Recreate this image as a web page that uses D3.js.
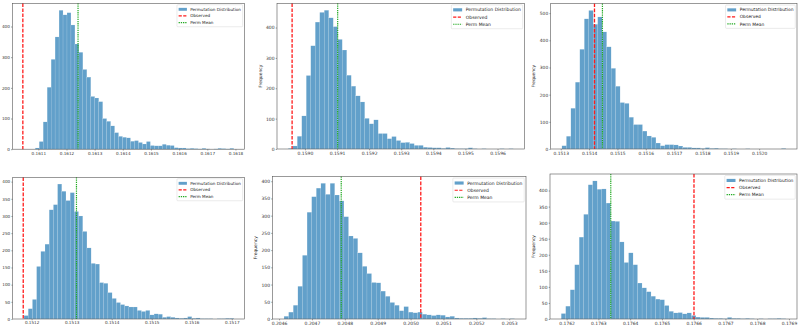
<!DOCTYPE html>
<html>
<head>
<meta charset="utf-8">
<script src="https://cdn.jsdelivr.net/npm/d3@7"></script>
<style>
  body { margin: 0; background: #fff; }
  svg { display: block; font-family: 'DejaVu Sans', sans-serif; }
</style>
</head>
<body>
<div id="chart"></div>
<script>
const w = 800
const h = 333

// histogram counts (50 bins each)
const counts1 = [4, 25, 89, 202, 293, 366, 453, 438, 445, 405, 343, 316, 260, 235, 172, 167, 155, 100, 91, 76, 54, 42, 39, 37, 26, 28, 22, 17, 25, 12, 11, 11, 16, 13, 12, 5, 4, 4, 2, 3, 2, 1, 3, 1, 0, 1, 3, 2, 1, 3]
const counts2 = [2, 10, 42, 109, 242, 340, 418, 450, 457, 432, 403, 361, 326, 243, 207, 175, 155, 101, 83, 96, 51, 51, 34, 41, 28, 21, 22, 18, 12, 12, 6, 5, 4, 4, 2, 5, 3, 1, 1, 1, 4, 1, 0, 1, 0, 0, 0, 1, 0, 1]
const counts3 = [12, 47, 150, 246, 367, 479, 510, 459, 486, 431, 376, 297, 231, 171, 168, 117, 90, 90, 66, 48, 43, 22, 12, 16, 16, 15, 11, 6, 6, 4, 4, 2, 5, 2, 3, 1, 1, 0, 1, 0, 0, 1, 0, 0, 0, 0, 0, 0, 0, 2]
const counts4 = [10, 30, 57, 153, 197, 218, 318, 333, 393, 372, 345, 368, 313, 300, 255, 207, 162, 160, 106, 104, 77, 60, 48, 42, 38, 35, 35, 25, 22, 25, 12, 15, 14, 5, 7, 5, 3, 2, 3, 7, 2, 3, 1, 1, 1, 0, 1, 1, 2, 2]
const counts5 = [8, 20, 40, 95, 185, 310, 355, 380, 394, 362, 394, 360, 343, 297, 241, 234, 192, 153, 132, 106, 105, 81, 66, 48, 40, 24, 36, 20, 18, 20, 14, 12, 10, 12, 11, 6, 8, 3, 2, 2, 2, 3, 2, 4, 1, 1, 0, 1, 0, 1]
const counts6 = [17, 40, 91, 169, 255, 326, 418, 430, 404, 405, 361, 305, 304, 240, 176, 206, 169, 112, 97, 85, 71, 62, 60, 42, 24, 19, 20, 16, 19, 11, 6, 5, 5, 3, 2, 2, 1, 5, 2, 2, 1, 2, 1, 0, 1, 0, 1, 1, 2, 1]

// histogram ranges [first edge, last edge]
const binRange1 = [0.161089, 0.161794]
const binRange2 = [0.158948, 0.159649]
const binRange3 = [0.151304, 0.152094]
const binRange4 = [0.151181, 0.151705]
const binRange5 = [0.204615, 0.205316]
const binRange6 = [0.176183, 0.176890]

const observed = [0.161045, 0.158960, 0.151419, 0.151179, 0.205031, 0.176601]
const permMean = [0.161241, 0.159102, 0.151447, 0.151312, 0.204789, 0.176339]

const xTicks1 = [0.1611, 0.1612, 0.1613, 0.1614, 0.1615, 0.1616, 0.1617, 0.1618]
const xTicks2 = [0.1590, 0.1591, 0.1592, 0.1593, 0.1594, 0.1595, 0.1596]
const xTicks3 = [0.1513, 0.1514, 0.1515, 0.1516, 0.1517, 0.1518, 0.1519, 0.1520]
const xTicks4 = [0.1512, 0.1513, 0.1514, 0.1515, 0.1516, 0.1517]
const xTicks5 = [0.2046, 0.2047, 0.2048, 0.2049, 0.2050, 0.2051, 0.2052, 0.2053]
const xTicks6 = [0.1762, 0.1763, 0.1764, 0.1765, 0.1766, 0.1767, 0.1768, 0.1769]

const yTicksA = [0, 100, 200, 300, 400]
const yTicksB = [0, 100, 200, 300, 400, 500]
const yTicksC = [0, 50, 100, 150, 200, 250, 300, 350, 400]

const legendLabels = ['Permutation Distribution', 'Observed', 'Perm Mean']
const yLabel = 'Frequency'

const panels = [
    {counts: counts1, range: binRange1, obs: observed[0], mean: permMean[0], xTicks: xTicks1, yTicks: yTicksA},
    {counts: counts2, range: binRange2, obs: observed[1], mean: permMean[1], xTicks: xTicks2, yTicks: yTicksA},
    {counts: counts3, range: binRange3, obs: observed[2], mean: permMean[2], xTicks: xTicks3, yTicks: yTicksB},
    {counts: counts4, range: binRange4, obs: observed[3], mean: permMean[3], xTicks: xTicks4, yTicks: yTicksC},
    {counts: counts5, range: binRange5, obs: observed[4], mean: permMean[4], xTicks: xTicks5, yTicks: yTicksC},
    {counts: counts6, range: binRange6, obs: observed[5], mean: permMean[5], xTicks: xTicks6, yTicks: yTicksC},
]

// where each axes box sits in the frame, its font size, and whether the y label fits in view
const boxes = [
    {left: 12.3, right: 244.3, top: 3.3, bottom: 149.2, fs: 4.15, ylab: false},
    {left: 277, right: 524.5, top: 3.3, bottom: 149, fs: 4.5, ylab: true},
    {left: 550.7, right: 797, top: 3.5, bottom: 149, fs: 4.4, ylab: true},
    {left: 12.7, right: 244.3, top: 177.3, bottom: 319, fs: 4.15, ylab: false},
    {left: 272.5, right: 526, top: 176.5, bottom: 319, fs: 4.5, ylab: true},
    {left: 550, right: 797, top: 174, bottom: 319, fs: 4.45, ylab: true},
]

const barColor = '#1f77b4'
const obsColor = '#ff1a1a'
const meanColor = '#22aa22'

const svg = d3.select('#chart')
    .append('svg')
    .attr('width', w)
    .attr('height', h)

panels.forEach((p, k) => drawPanel(p, boxes[k]))

function drawPanel(p, b) {
    const n = p.counts.length
    const step = (p.range[1] - p.range[0]) / n
    const bins = p.counts.map((c, i) => ({x0: p.range[0] + i * step, x1: p.range[0] + (i + 1) * step, c: c}))

    const lo = Math.min(p.range[0], p.obs, p.mean)
    const hi = Math.max(p.range[1], p.obs, p.mean)
    const pad = (hi - lo) * 0.05

    const x = d3.scaleLinear().domain([lo - pad, hi + pad]).range([b.left, b.right])
    const y = d3.scaleLinear().domain([0, d3.max(p.counts) * 1.05]).range([b.bottom, b.top])
    const fs = b.fs

    const g = svg.append('g')

    g.append('g')
        .selectAll('rect')
        .data(bins)
        .enter()
        .append('rect')
        .attr('x', d => x(d.x0))
        .attr('width', d => x(d.x1) - x(d.x0))
        .attr('y', d => y(d.c))
        .attr('height', d => y(0) - y(d.c))
        .attr('fill', barColor)
        .attr('fill-opacity', 0.7)
        .attr('stroke', '#fff')
        .attr('stroke-opacity', 0.5)
        .attr('stroke-width', 0.25)

    g.append('line')
        .attr('x1', x(p.obs)).attr('x2', x(p.obs))
        .attr('y1', b.top).attr('y2', b.bottom)
        .attr('stroke', obsColor)
        .attr('stroke-width', 1.3)
        .attr('stroke-dasharray', '3.6,1.5')

    g.append('line')
        .attr('x1', x(p.mean)).attr('x2', x(p.mean))
        .attr('y1', b.top).attr('y2', b.bottom)
        .attr('stroke', meanColor)
        .attr('stroke-width', 1.2)
        .attr('stroke-dasharray', '1.3,0.9')

    const xAxis = d3.axisBottom(x)
        .tickValues(p.xTicks)
        .tickFormat(d3.format('.4f'))
        .tickSize(1.3)
        .tickPadding(1.2)

    const yAxis = d3.axisLeft(y)
        .tickValues(p.yTicks)
        .tickFormat(d3.format('d'))
        .tickSize(1.3)
        .tickPadding(1.2)

    const gx = g.append('g')
        .attr('transform', `translate(0, ${b.bottom})`)
        .call(xAxis)
    const gy = g.append('g')
        .attr('transform', `translate(${b.left}, 0)`)
        .call(yAxis)

    ;[gx, gy].forEach(a => {
        a.select('.domain').remove()
        a.selectAll('line').attr('stroke', '#444').attr('stroke-width', 0.5)
        a.selectAll('text')
            .attr('fill', '#333')
            .style('font-size', fs + 'px')
            .style('font-family', "'DejaVu Sans', sans-serif")
    })

    g.append('rect')
        .attr('x', b.left).attr('y', b.top)
        .attr('width', b.right - b.left).attr('height', b.bottom - b.top)
        .attr('fill', 'none')
        .attr('stroke', '#555')
        .attr('stroke-width', 0.6)

    if (b.ylab) {
        g.append('text')
            .attr('transform', `translate(${b.left - 15.5}, ${(b.top + b.bottom) / 2}) rotate(-90)`)
            .attr('text-anchor', 'middle')
            .attr('fill', '#333')
            .style('font-size', fs + 'px')
            .text(yLabel)
    }

    // legend
    const lg = g.append('g')
    const tmp = lg.append('text').style('font-size', fs + 'px').text(legendLabels[0])
    const textW = tmp.node().getComputedTextLength()
    tmp.remove()

    const boxW = fs * 3.6 + textW
    const boxH = fs * 1.6 * 3 + fs * 0.5
    const bx = b.right - fs * 0.4 - boxW
    const by = b.top + fs * 0.35

    lg.append('rect')
        .attr('x', bx).attr('y', by)
        .attr('width', boxW).attr('height', boxH)
        .attr('rx', 0.8)
        .attr('fill', '#fff').attr('fill-opacity', 0.8)
        .attr('stroke', '#ccc').attr('stroke-width', 0.4)

    const hx = bx + fs * 0.4
    const hw = fs * 2
    legendLabels.forEach((label, i) => {
        const cy = by + fs * 1.1 + i * fs * 1.6
        if (i === 0) {
            lg.append('rect')
                .attr('x', hx).attr('y', cy - fs * 0.35)
                .attr('width', hw).attr('height', fs * 0.7)
                .attr('fill', barColor).attr('fill-opacity', 0.7)
        } else {
            lg.append('line')
                .attr('x1', hx).attr('x2', hx + hw)
                .attr('y1', cy).attr('y2', cy)
                .attr('stroke', i === 1 ? obsColor : meanColor)
                .attr('stroke-width', 1.2)
                .attr('stroke-dasharray', i === 1 ? '3.2,1.4' : '1.3,0.9')
        }
        lg.append('text')
            .attr('x', hx + hw + fs * 0.8)
            .attr('y', cy)
            .attr('dy', '0.35em')
            .attr('fill', '#222')
            .style('font-size', fs + 'px')
            .text(label)
    })
}
</script>
</body>
</html>
